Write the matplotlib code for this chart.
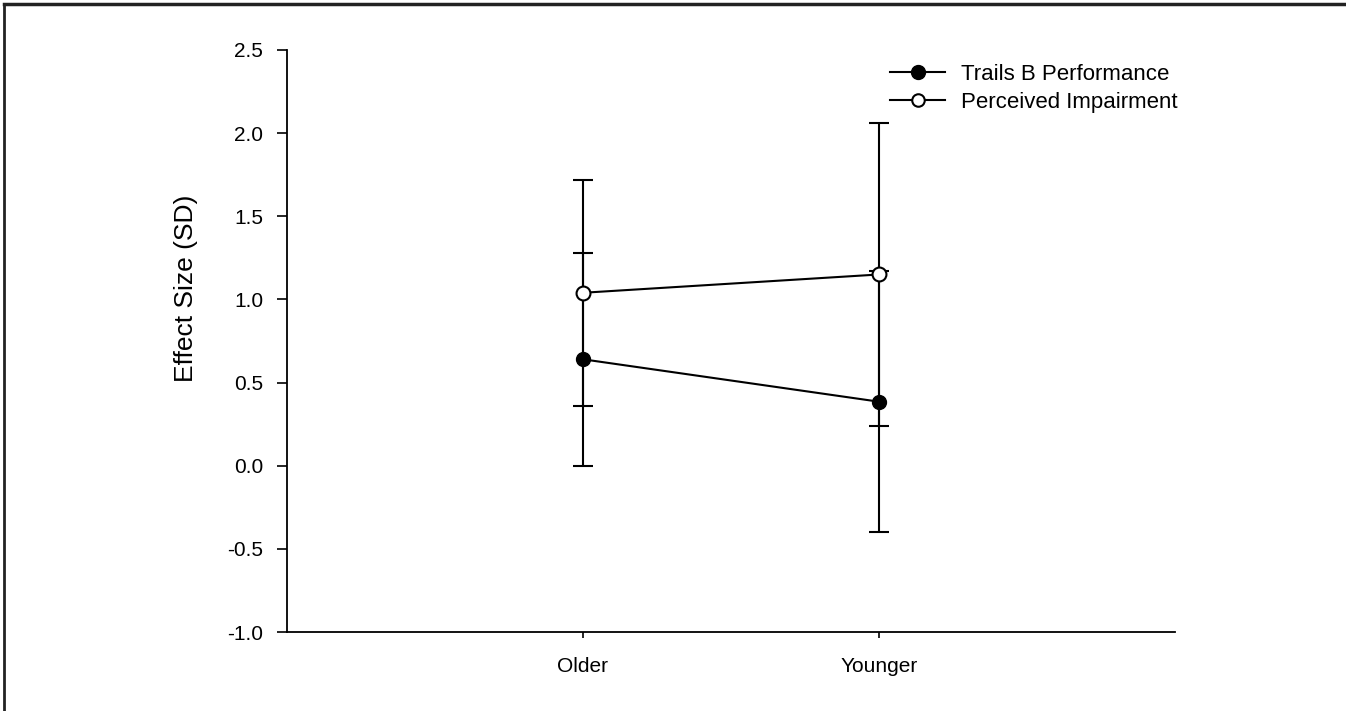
import matplotlib
matplotlib.use("Agg")
import matplotlib.pyplot as plt
from matplotlib.lines import Line2D

plt.rcParams['font.family'] = ['Liberation Sans', 'DejaVu Sans']

groups = ["Older", "Younger"]
x_pos = [1, 2]

trails_mean = [0.64, 0.385]
trails_low = [0.0, -0.40]
trails_high = [1.28, 1.17]

perc_mean = [1.04, 1.15]
perc_low = [0.36, 0.24]
perc_high = [1.72, 2.06]

y_ticks = [-1.0, -0.5, 0.0, 0.5, 1.0, 1.5, 2.0, 2.5]

fig = plt.figure(figsize=(13.46, 7.11), dpi=100)
ax = fig.add_axes([0.2132, 0.1111, 0.6597, 0.8186])

def err(mean, low, high):
    return [[m - l for m, l in zip(mean, low)], [h - m for m, h in zip(mean, high)]]

ax.errorbar(x_pos, trails_mean, yerr=err(trails_mean, trails_low, trails_high),
            color='black', lw=1.5, elinewidth=1.5, capsize=7, capthick=1.5,
            marker='o', markersize=10, markerfacecolor='black', markeredgecolor='black',
            label='Trails B Performance', zorder=3)
ax.errorbar(x_pos, perc_mean, yerr=err(perc_mean, perc_low, perc_high),
            color='black', lw=1.5, elinewidth=1.5, capsize=7, capthick=1.5,
            marker='o', markersize=10, markerfacecolor='white', markeredgecolor='black',
            markeredgewidth=1.5, label='Perceived Impairment', zorder=4)

ax.set_xlim(0, 3)
ax.set_ylim(-1.0, 2.5)
ax.set_yticks(y_ticks)
ax.set_yticklabels([f"{v:.1f}" for v in y_ticks])
ax.set_xticks(x_pos)
ax.set_xticklabels(groups)
ax.tick_params(axis='y', direction='out', length=7, width=1.2, labelsize=15, pad=10)
ax.tick_params(axis='x', direction='out', length=4, width=1.2, labelsize=15, pad=14)
ax.set_ylabel("Effect Size (SD)", fontsize=19)
ax.yaxis.set_label_coords(-0.100, 0.59)

for s in ['top', 'right']:
    ax.spines[s].set_visible(False)
for s in ['left', 'bottom']:
    ax.spines[s].set_linewidth(1.3)

handles = [
    Line2D([], [], color='black', lw=1.5, marker='o', markersize=10, markerfacecolor='black'),
    Line2D([], [], color='black', lw=1.5, marker='o', markersize=9, markerfacecolor='white', markeredgewidth=1.5),
]
ax.legend(handles, ['Trails B Performance', 'Perceived Impairment'], loc='upper left',
          bbox_to_anchor=(0.679, 0.976), frameon=False, fontsize=16, handlelength=2.5,
          handletextpad=0.7, labelspacing=0.3, borderpad=0, borderaxespad=0)

# outer frame (top and left only)
fig.add_artist(Line2D([0.003, 1.0], [0.995, 0.995], transform=fig.transFigure, color='#222222', lw=2.5))
fig.add_artist(Line2D([0.003, 0.003], [0.0, 0.995], transform=fig.transFigure, color='#222222', lw=2))

fig.savefig("out.png", dpi=100)
